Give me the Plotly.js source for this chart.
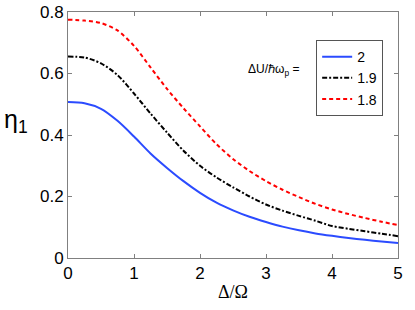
<!DOCTYPE html>
<html><head><meta charset="utf-8">
<script src="https://cdn.plot.ly/plotly-3.0.1.min.js"></script>
<style>html,body{margin:0;padding:0;background:#fff}#chart{width:415px;height:310px}</style>
</head><body><div id="chart"></div>
<script>
const xVals = [0,0.25,0.5,0.75,1,1.25,1.5,1.75,2,2.25,2.5,2.75,3,3.25,3.5,3.75,4,4.25,4.5,4.75,5];
const eta2  = [0.507,0.503,0.485,0.446,0.395,0.34,0.293,0.25,0.212,0.18,0.155,0.134,0.117,0.102,0.09,0.08,0.072,0.065,0.059,0.054,0.049];
const eta19 = [0.655,0.652,0.633,0.595,0.535,0.47,0.408,0.349,0.3,0.262,0.23,0.2,0.174,0.154,0.137,0.121,0.104,0.095,0.087,0.079,0.071];
const eta18 = [0.775,0.772,0.764,0.74,0.69,0.62,0.55,0.487,0.428,0.37,0.322,0.283,0.25,0.222,0.198,0.176,0.158,0.143,0.13,0.118,0.107];
const seriesNames = ["2","1.9","1.8"];
const xTicks = [0,1,2,3,4,5];
const yTicks = [0,0.2,0.4,0.6,0.8];
const yTickText = ["0","0.2","0.4","0.6","0.8"];

const traces = [
  {x:xVals,y:eta2,name:seriesNames[0],mode:"lines",line:{color:"#2b4bff",width:2,shape:"spline",smoothing:0.8}},
  {x:xVals,y:eta19,name:seriesNames[1],mode:"lines",line:{color:"#000000",width:2,dash:"5px,2px,2px,2px",shape:"spline",smoothing:0.8}},
  {x:xVals,y:eta18,name:seriesNames[2],mode:"lines",line:{color:"#ff0000",width:2,dash:"4px,3px",shape:"spline",smoothing:0.8}}
];
const axisCommon = {
  showgrid:false, zeroline:false, showline:true, linecolor:"#808080", linewidth:1,
  mirror:"ticks", ticks:"inside", ticklen:4, tickcolor:"#808080",
  tickfont:{family:"Liberation Sans, Arial, sans-serif",size:17,color:"#000"}
};
const layout = {
  width:415,height:310,
  margin:{l:68,r:17,t:12,b:52},
  paper_bgcolor:"#fff",plot_bgcolor:"#fff",
  showlegend:true,
  xaxis:Object.assign({},axisCommon,{range:[0,5],tickvals:xTicks,ticktext:xTicks.map(String),
    title:{text:"Δ/Ω",font:{family:"Liberation Serif, Times New Roman, serif",size:18,color:"#000"},standoff:2}}),
  yaxis:Object.assign({},axisCommon,{range:[0,0.8],tickvals:yTicks,ticktext:yTickText}),
  legend:{x:0.752,y:0.886,xanchor:"left",yanchor:"top",bgcolor:"#fff",bordercolor:"#555",borderwidth:1,
    font:{family:"Liberation Sans, Arial, sans-serif",size:14,color:"#000"},tracegroupgap:0,itemwidth:30},
  annotations:[
    {xref:"paper",yref:"paper",x:-0.2,y:0.555,xanchor:"left",yanchor:"middle",showarrow:false,
     text:"η<sub>1</sub>",font:{family:"Liberation Sans, Arial, sans-serif",size:25,color:"#000"}},
    {xref:"paper",yref:"paper",x:0.705,y:0.765,xanchor:"right",yanchor:"middle",showarrow:false,
     text:"ΔU/ℏω<sub>p</sub> =",font:{family:"Liberation Sans, Arial, sans-serif",size:12,color:"#000"}}
  ]
};
Plotly.newPlot("chart",traces,layout,{displayModeBar:false,staticPlot:true});
</script></body></html>
